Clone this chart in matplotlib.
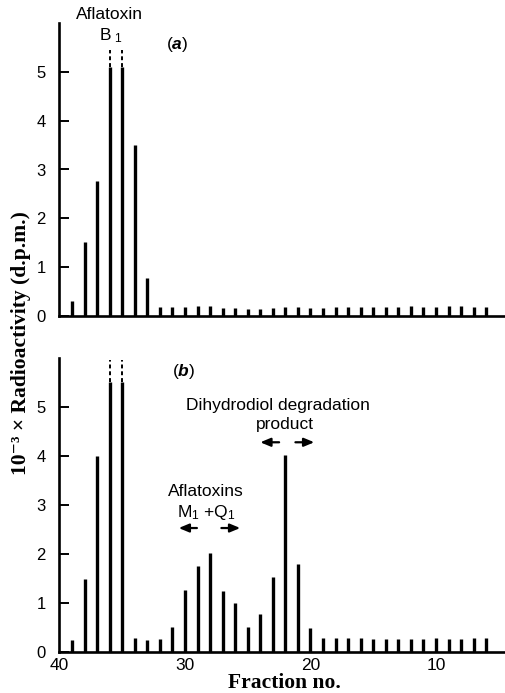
import numpy as np
import matplotlib
matplotlib.use('Agg')
import matplotlib.pyplot as plt

plt.rcParams['font.family'] = ['Liberation Sans', 'DejaVu Sans']
plt.rcParams['mathtext.fontset'] = 'custom'
plt.rcParams['mathtext.rm'] = 'Liberation Sans'
plt.rcParams['mathtext.it'] = 'Liberation Sans:italic'
plt.rcParams['mathtext.bfit'] = 'Liberation Sans:italic:bold'

# fraction numbers 39 .. 6
fractions = np.arange(39, 5, -1)

# panel (a): 10^-3 x d.p.m. per fraction
counts_a = [0.31, 1.52, 2.77, 5.1, 5.1, 3.5, 0.77,
            0.18, 0.19, 0.19, 0.20, 0.20, 0.16, 0.16,
            0.15, 0.15, 0.17, 0.18, 0.18, 0.17, 0.17, 0.18, 0.19, 0.19,
            0.18, 0.18, 0.19, 0.20, 0.19, 0.19, 0.21, 0.21, 0.19, 0.19]
# panel (b)
counts_b = [0.25, 1.5, 4.0, 5.5, 5.5, 0.29, 0.25, 0.27, 0.51, 1.27,
            1.75, 2.02, 1.24, 1.0, 0.51, 0.77, 1.53, 4.02, 1.8, 0.5,
            0.29, 0.28, 0.28, 0.28, 0.27, 0.27, 0.27, 0.27, 0.27, 0.28,
            0.27, 0.27, 0.28, 0.28]

# off-scale peaks drawn as broken (dashed) bars
broken_fracs = [36, 35]
broken_top_a = 5.45
broken_top_b = 5.95

yticks = [0, 1, 2, 3, 4, 5]
xticks = [40, 30, 20, 10]

fig = plt.figure(figsize=(5.06, 6.93), dpi=100)
ax_a = fig.add_axes([59.5/506, 1-316/693, 1-59.5/506, (316-23)/693])
ax_b = fig.add_axes([59.5/506, 1-652/693, 1-59.5/506, (652-358)/693])

for ax, counts, btop in [(ax_a, counts_a, broken_top_a), (ax_b, counts_b, broken_top_b)]:
    ax.vlines(fractions, 0, counts, color='k', linewidth=2.4)
    for f in broken_fracs:
        c = counts[list(fractions).index(f)]
        ax.vlines(f, c, btop, color='k', linewidth=1.4, linestyles=(0, (2, 1.5)))
    ax.set_xlim(40, 4.42)
    ax.set_ylim(0, 6)
    ax.set_yticks(yticks)
    ax.set_xticks(xticks)
    for s in ['top', 'right']:
        ax.spines[s].set_visible(False)
    for s in ['left', 'bottom']:
        ax.spines[s].set_linewidth(1.9)
    ax.tick_params(axis='y', direction='in', length=7, width=1.4, pad=10, labelsize=12)
    ax.tick_params(axis='x', length=0, pad=4, labelsize=12.5)

ax_a.tick_params(axis='x', labelbottom=False)

fs = 12.5
# annotations panel (a)
ax_a.text(36.05, 6.18, 'Aflatoxin', ha='center', va='center', fontsize=fs)
ax_a.text(35.9, 5.75, r'B$_{\ 1}$', ha='center', va='center', fontsize=fs)
ax_a.text(30.6, 5.56, r'($\mathbfit{a}$)', ha='center', va='center', fontsize=fs)

# annotations panel (b)
ax_b.text(30.1, 5.72, r'($\mathbfit{b}$)', ha='center', va='center', fontsize=fs)
ax_b.text(22.6, 5.03, 'Dihydrodiol degradation', ha='center', va='center', fontsize=fs)
ax_b.text(22.0, 4.64, 'product', ha='center', va='center', fontsize=fs)
ax_b.text(28.3, 3.28, 'Aflatoxins', ha='center', va='center', fontsize=fs)
ax_b.text(28.3, 2.85, r'M$_1$ +Q$_1$', ha='center', va='center', fontsize=fs)

arrow = dict(arrowstyle='-|>,head_length=0.6,head_width=0.25', color='k', lw=1.6,
             shrinkA=0, shrinkB=0)
ax_b.annotate('', xy=(24.0, 4.28), xytext=(22.5, 4.28), arrowprops=arrow)
ax_b.annotate('', xy=(19.7, 4.28), xytext=(21.2, 4.28), arrowprops=arrow)
ax_b.annotate('', xy=(30.5, 2.53), xytext=(29.05, 2.53), arrowprops=arrow)
ax_b.annotate('', xy=(25.6, 2.53), xytext=(27.1, 2.53), arrowprops=arrow)

serif = ['Liberation Serif', 'DejaVu Serif']
fig.text(21/506, 1-343/693, '10⁻³ × Radioactivity (d.p.m.)', rotation=90,
         ha='center', va='center', fontsize=15.5, fontweight='bold', family=serif)
fig.text(284/506, 1-683/693, 'Fraction no.', ha='center', va='center',
         fontsize=15.5, fontweight='bold', family=serif)

fig.savefig('out.png', dpi=100)
